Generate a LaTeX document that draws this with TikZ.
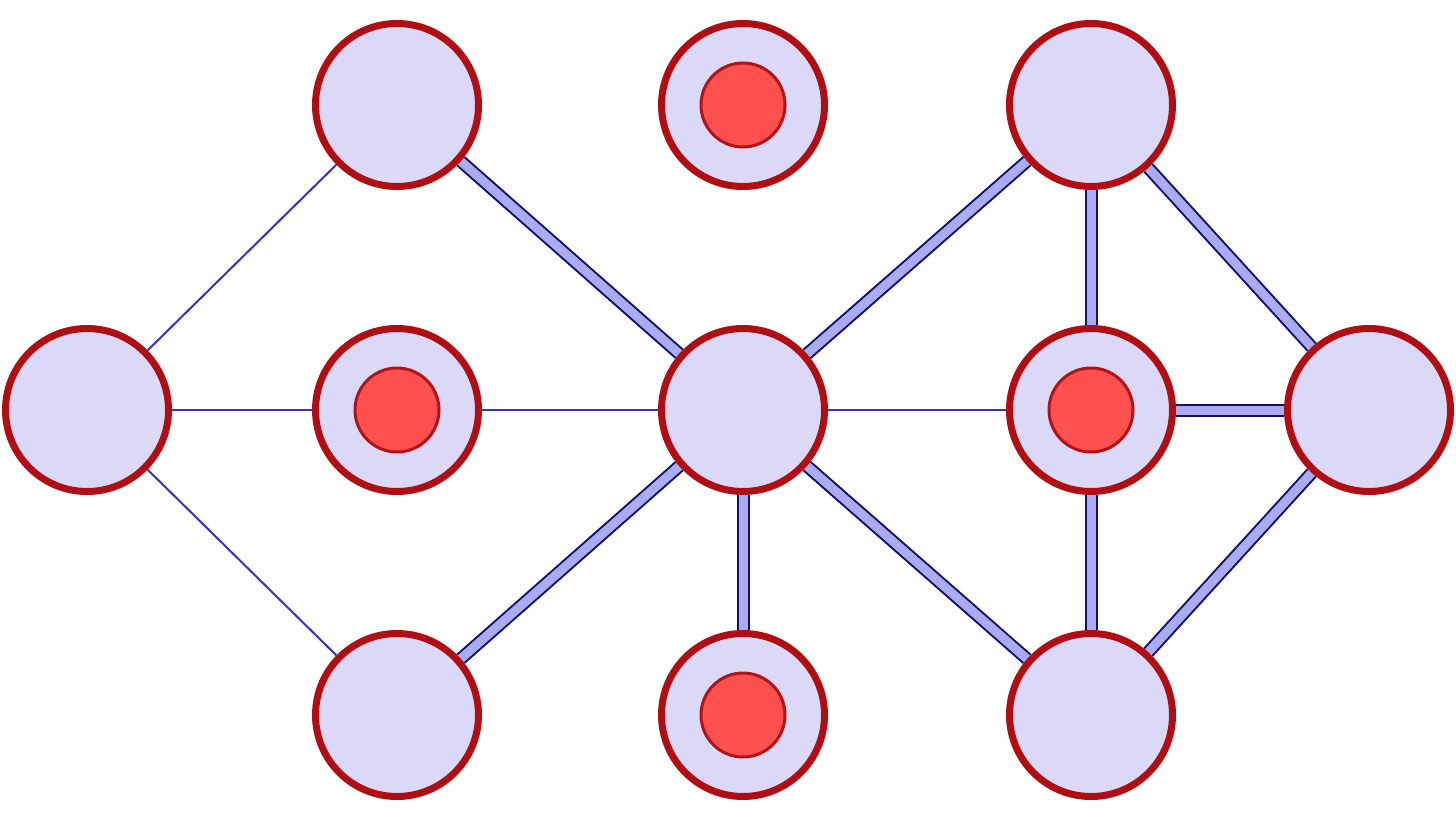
\documentclass[tikz,border=0pt]{standalone}
\usetikzlibrary{backgrounds}
\definecolor{ringred}{HTML}{B00E12}
\definecolor{lav}{HTML}{DCD9F8}
\definecolor{corered}{HTML}{FF5050}
\definecolor{coreedge}{HTML}{B01418}
\definecolor{navy}{HTML}{101070}
\definecolor{bandfill}{HTML}{ABABF0}
\definecolor{thinblue}{HTML}{3A2EC8}
\tikzset{
  site/.style={circle, draw=ringred, fill=lav, line width=7pt, minimum size=163pt, inner sep=0pt},
  occupied/.style={site, path picture={\draw[draw=coreedge, fill=corered, line width=3pt] (path picture bounding box.center) circle (42pt);}},
  weak/.style={draw=thinblue, line width=2pt},
  strong/.style={draw=navy, line width=2pt, double=bandfill, double distance=9pt},
}
\begin{document}
\begin{tikzpicture}[x=1pt,y=-1pt]
\useasboundingbox (0,0) rectangle (1456,821);
\node[site] (A) at (397,105) {};
\node[occupied] (B) at (743,105) {};
\node[site] (C) at (1091,105) {};
\node[site] (D) at (87,410) {};
\node[occupied] (E) at (397,410) {};
\node[site] (F) at (743,410) {};
\node[occupied] (G) at (1091,410) {};
\node[site] (H) at (1369,410) {};
\node[site] (I) at (397,715) {};
\node[occupied] (J) at (743,715) {};
\node[site] (K) at (1091,715) {};
\begin{scope}[on background layer]
\fill[white] (0,0) rectangle (1456,821);
\draw[weak] (A) -- (D);
\draw[weak] (D) -- (E);
\draw[weak] (D) -- (I);
\draw[weak] (E) -- (F);
\draw[weak] (F) -- (G);
\draw[strong] (A) -- (F);
\draw[strong] (F) -- (C);
\draw[strong] (F) -- (I);
\draw[strong] (F) -- (J);
\draw[strong] (F) -- (K);
\draw[strong] (C) -- (G);
\draw[strong] (C) -- (H);
\draw[strong] (G) -- (H);
\draw[strong] (G) -- (K);
\draw[strong] (H) -- (K);
\end{scope}
\end{tikzpicture}
\end{document}
